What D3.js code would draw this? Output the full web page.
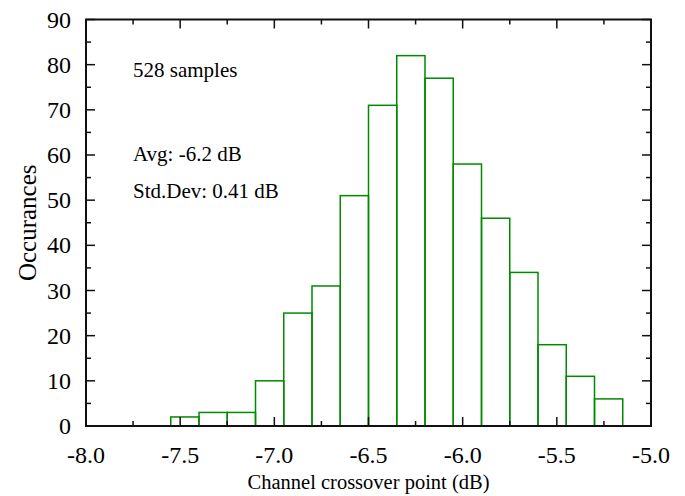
<!DOCTYPE html>
<html>
<head>
<meta charset="utf-8">
<script src="https://cdn.jsdelivr.net/npm/d3@7"></script>
<style>
    body { margin: 0; background: #fff; }
    svg { display: block; }
    text { font-family: 'Liberation Serif', 'Times New Roman', serif; fill: #000; }
</style>
</head>
<body>
<div id="chart"></div>
<script>
// ===== Data =====
const binStart = -7.55;
const binWidth = 0.15;
const counts = [2, 3, 3, 10, 25, 31, 51, 71, 82, 77, 58, 46, 34, 18, 11, 6];
const xTicks = [-8.0, -7.5, -7.0, -6.5, -6.0, -5.5, -5.0];
const yTicks = [0, 10, 20, 30, 40, 50, 60, 70, 80, 90];
const notes = ['528 samples', 'Avg: -6.2 dB', 'Std.Dev: 0.41 dB'];

// ===== Layout =====
const W = 685, H = 496;
const margin = { top: 19.5, right: 34, bottom: 70, left: 86 };
const width = W - margin.left - margin.right;
const height = H - margin.top - margin.bottom;
const green = '#008a00';

const x = d3.scaleLinear().domain([-8, -5]).range([0, width]);
const y = d3.scaleLinear().domain([0, 90]).range([height, 0]);

const svg = d3.select('#chart').append('svg')
    .attr('width', W)
    .attr('height', H)
    .append('g')
    .attr('transform', `translate(${margin.left},${margin.top})`);

// ===== Histogram =====
const bins = counts.map((c, i) => ({
    x0: binStart + i * binWidth,
    x1: binStart + (i + 1) * binWidth,
    count: c
}));

// zero baseline outside the bins
const lastEdge = bins[bins.length - 1].x1;
[[-8, binStart], [lastEdge, -5]].forEach(([a, b]) => {
    svg.append('line')
        .attr('x1', x(a)).attr('x2', x(b))
        .attr('y1', y(0)).attr('y2', y(0))
        .attr('stroke', green).attr('stroke-width', 2);
});

svg.selectAll('.bar')
    .data(bins)
    .enter()
    .append('rect')
    .attr('class', 'bar')
    .attr('x', d => x(d.x0))
    .attr('y', d => y(d.count))
    .attr('width', d => x(d.x1) - x(d.x0))
    .attr('height', d => y(0) - y(d.count))
    .attr('fill', 'none')
    .attr('stroke', green)
    .attr('stroke-width', 1.5);

// ===== Ticks (inward, all four sides) =====
const minorX = d3.range(-8, -4.99, 0.25);
const minorY = d3.range(0, 90.1, 5);
const tick = svg.append('g').attr('stroke', '#111').attr('stroke-width', 1.5);

minorX.forEach(v => {
    const major = Math.abs(v * 2 - Math.round(v * 2)) < 1e-6;
    const len = major ? 9 : 5;
    tick.append('line').attr('x1', x(v)).attr('x2', x(v)).attr('y1', height).attr('y2', height - len);
    tick.append('line').attr('x1', x(v)).attr('x2', x(v)).attr('y1', 0).attr('y2', len);
});
minorY.forEach(v => {
    const len = v % 10 === 0 ? 9 : 5;
    tick.append('line').attr('x1', 0).attr('x2', len).attr('y1', y(v)).attr('y2', y(v));
    tick.append('line').attr('x1', width).attr('x2', width - len).attr('y1', y(v)).attr('y2', y(v));
});

// Frame
svg.append('rect')
    .attr('width', width)
    .attr('height', height)
    .attr('fill', 'none')
    .attr('stroke', '#111')
    .attr('stroke-width', 2);

// ===== Tick labels =====
svg.selectAll('.xlab')
    .data(xTicks)
    .enter()
    .append('text')
    .attr('x', d => x(d))
    .attr('y', height + 37)
    .attr('text-anchor', 'middle')
    .style('font-size', '24px')
    .text(d => d3.format('.1f')(d).replace('−', '-'));

svg.selectAll('.ylab')
    .data(yTicks)
    .enter()
    .append('text')
    .attr('x', -15)
    .attr('y', d => y(d) + 8)
    .attr('text-anchor', 'end')
    .style('font-size', '24px')
    .text(d => d);

// ===== Axis titles =====
svg.append('text')
    .attr('x', width / 2)
    .attr('y', height + 63)
    .attr('text-anchor', 'middle')
    .style('font-size', '20.5px')
    .text('Channel crossover point (dB)');

svg.append('text')
    .attr('transform', 'rotate(-90)')
    .attr('x', -height / 2)
    .attr('y', -50)
    .attr('text-anchor', 'middle')
    .style('font-size', '25px')
    .text('Occurances');

// ===== Annotations =====
const noteY = [77, 161, 198];
notes.forEach((t, i) => {
    svg.append('text')
        .attr('x', 133 - margin.left)
        .attr('y', noteY[i] - margin.top)
        .style('font-size', '21px')
        .text(t);
});
</script>
</body>
</html>
